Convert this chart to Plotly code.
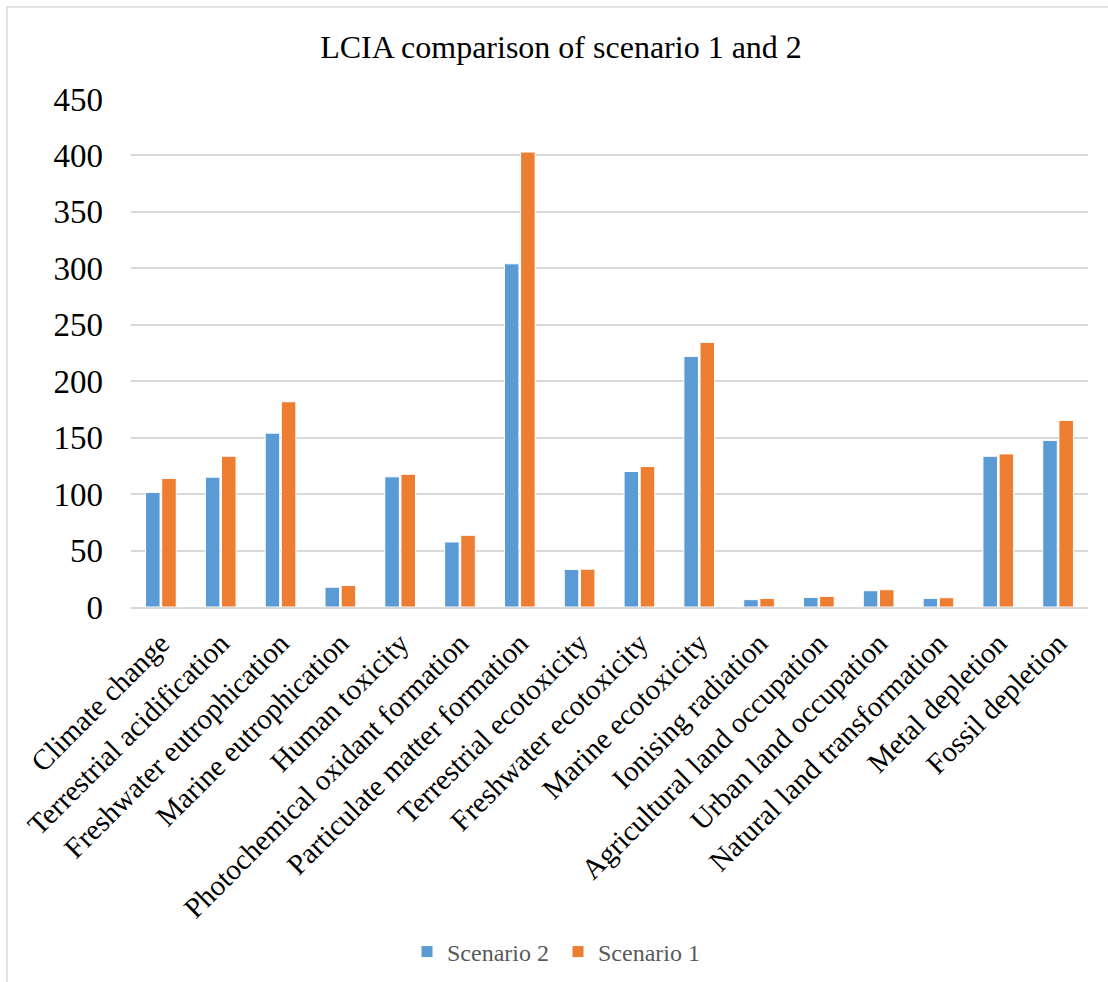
import plotly.graph_objects as go

categories = [
    "Climate change", "Terrestrial acidification", "Freshwater eutrophication",
    "Marine eutrophication", "Human toxicity", "Photochemical oxidant formation",
    "Particulate matter formation", "Terrestrial ecotoxicity", "Freshwater ecotoxicity",
    "Marine ecotoxicity", "Ionising radiation", "Agricultural land occupation",
    "Urban land occupation", "Natural land transformation", "Metal depletion",
    "Fossil depletion",
]
scenario_2 = [101.5, 115, 154, 17.5, 115.3, 57.6, 304, 33.2, 120, 222,
              6.5, 8.5, 14.4, 7.6, 133.5, 147.6]
scenario_1 = [113.8, 133.5, 181.8, 19, 117.6, 63.5, 403, 33.5, 124.4, 234.4,
              7.6, 9.4, 15.3, 8.2, 135.6, 165.3]
y_ticks = [0, 50, 100, 150, 200, 250, 300, 350, 400, 450]

BLUE = "#5B9BD5"
ORANGE = "#ED7D31"
FONT = "Liberation Serif"

fig = go.Figure()
fig.add_trace(go.Bar(
    x=categories, y=scenario_2, name="Scenario 2",
    marker=dict(color=BLUE, line=dict(color="white", width=1)),
))
fig.add_trace(go.Bar(
    x=categories, y=scenario_1, name="Scenario 1",
    marker=dict(color=ORANGE, line=dict(color="white", width=1)),
))

fig.update_layout(
    width=1108, height=982,
    margin=dict(l=131, r=20, t=99, b=375),
    paper_bgcolor="white", plot_bgcolor="white",
    font=dict(family=FONT, color="black"),
    barmode="group", bargap=0.46, bargroupgap=0.1,
    title=dict(
        text="LCIA comparison of scenario 1 and 2",
        font=dict(family=FONT, size=32, color="black"),
        x=561 / 1108, xanchor="center", xref="container",
        y=1 - 47 / 982, yanchor="middle", yref="container",
    ),
    legend=dict(
        orientation="h", x=(558 - 131) / 957, xanchor="center",
        y=1 - 952 / 982, yanchor="middle", yref="container",
        font=dict(family=FONT, size=24, color="#595959"),
        traceorder="normal", itemwidth=30, entrywidth=106,
    ),
    showlegend=True,
    shapes=[dict(
        type="rect", xref="paper", yref="paper",
        x0=-124 / 957, x1=1.2, y0=-1.0, y1=1 + 92 / 508,
        line=dict(color="#D9D9D9", width=1.5), fillcolor="rgba(0,0,0,0)",
        layer="below",
    )],
)

fig.update_xaxes(
    tickangle=-45, tickfont=dict(family=FONT, size=29, color="black"),
    showline=True, linecolor="#D9D9D9", linewidth=1.5,
    showgrid=False, ticks="outside", ticklen=6, tickcolor="rgba(0,0,0,0)",
    automargin=False,
)
fig.update_yaxes(
    range=[0, 450], tickvals=y_ticks,
    tickfont=dict(family=FONT, size=33, color="black"),
    showgrid=True, gridcolor="#D9D9D9", gridwidth=1.5,
    zeroline=False, showline=False, ticks="",
    ticklabelstandoff=27, automargin=False,
)

fig.write_html("out.html")
